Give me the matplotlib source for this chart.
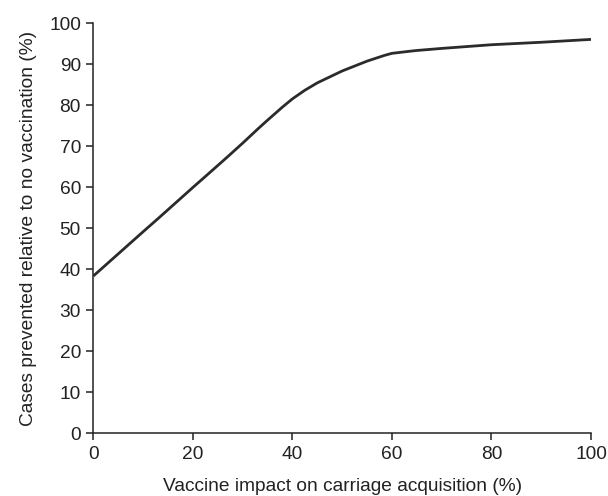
import matplotlib
matplotlib.use("Agg")
import matplotlib.pyplot as plt

# values
impact = [0, 5, 10, 13, 20, 23, 27, 30, 33, 35, 38, 40, 42.5, 45, 50, 55, 58.5, 60, 63.5, 65, 70, 80, 90, 100]
prevented = [38.4, 43.8, 49.2, 52.4, 60.0, 63.2, 67.5, 70.8, 74.2, 76.4, 79.6, 81.6, 83.7, 85.5, 88.4, 90.8, 92.2, 92.7, 93.2, 93.4, 93.9, 94.8, 95.4, 96.1]

x_ticks = [0, 20, 40, 60, 80, 100]
y_ticks = [0, 10, 20, 30, 40, 50, 60, 70, 80, 90, 100]

plt.rcParams['font.family'] = ['Liberation Sans', 'DejaVu Sans']

fig = plt.figure(figsize=(6.08, 4.96), dpi=100)
ax = fig.add_axes([0.1536, 0.1262, 0.972 - 0.1536, 0.9528 - 0.1262])

ax.plot(impact, prevented, color='#2b2b2b', lw=2.0, solid_capstyle='butt')

ax.set_xlim(0, 100)
ax.set_ylim(0, 100)
ax.set_xticks(x_ticks)
ax.set_yticks(y_ticks)
ax.spines['top'].set_visible(False)
ax.spines['right'].set_visible(False)
for s in ('left', 'bottom'):
    ax.spines[s].set_linewidth(1.1)
    ax.spines[s].set_color('#222222')
ax.tick_params(direction='out', length=5, width=1.1, color='#222222',
               labelsize=13.8, labelcolor='#222222', pad=4)

ax.set_xlabel("Vaccine impact on carriage acquisition (%)", fontsize=13.8, color='#222222', labelpad=11)
ax.set_ylabel("Cases prevented relative to no vaccination (%)", fontsize=13.8, color='#222222', labelpad=9)

fig.savefig("out.png", dpi=100)
